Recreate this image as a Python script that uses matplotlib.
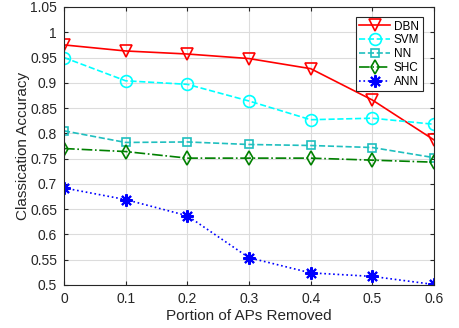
import matplotlib
matplotlib.use("Agg")
import matplotlib.pyplot as plt

plt.rcParams['font.family'] = ['Liberation Sans', 'DejaVu Sans']

portion = [0, 0.1, 0.2, 0.3, 0.4, 0.5, 0.6]
dbn = [0.975, 0.963, 0.957, 0.948, 0.928, 0.866, 0.787]
svm = [0.950, 0.904, 0.897, 0.864, 0.827, 0.830, 0.818]
nn = [0.805, 0.782, 0.783, 0.778, 0.776, 0.772, 0.752]
shc = [0.770, 0.764, 0.751, 0.751, 0.751, 0.747, 0.743]
ann = [0.692, 0.669, 0.637, 0.554, 0.524, 0.517, 0.501]

fig = plt.figure(figsize=(4.59, 3.28), dpi=100)
ax = fig.add_axes([64 / 459, 1 - 285 / 328, 370 / 459, 278 / 328])

# asterisk like matlab's '*'
asterisk = (8, 2, 0)

ax.plot(portion, dbn, '-', color='red', marker='v', ms=8, mfc='none', mew=1.2, lw=1.2, label='DBN')
ax.plot(portion, svm, '--', color='cyan', marker='o', ms=8.5, mfc='none', mew=1.2, lw=1.2, label='SVM')
ax.plot(portion, nn, '--', color='#1fbfbf', marker='s', ms=5.5, mfc='none', mew=1.2, lw=1.2, label='NN')
ax.plot(portion, shc, '-.', color='#008000', marker='d', ms=7.5, mfc='none', mew=1.2, lw=1.2, label='SHC')
ax.plot(portion, ann, ':', color='blue', marker=asterisk, ms=9, mew=1.5, lw=1.2, label='ANN')

ax.set_xlim(0, 0.6)
ax.set_ylim(0.5, 1.05)
ax.set_xticks(portion)
ax.set_xticklabels(['0', '0.1', '0.2', '0.3', '0.4', '0.5', '0.6'])
yt = [0.5, 0.55, 0.6, 0.65, 0.7, 0.75, 0.8, 0.85, 0.9, 0.95, 1.0, 1.05]
ax.set_yticks(yt)
ax.set_yticklabels(['0.5', '0.55', '0.6', '0.65', '0.7', '0.75', '0.8', '0.85', '0.9', '0.95', '1', '1.05'])
ax.grid(True, color='#dcdcdc', lw=0.8)
ax.set_axisbelow(True)
ax.tick_params(direction='in', labelsize=10, colors='#262626', length=3, top=True, right=True, pad=5)
for s in ax.spines.values():
    s.set_color('#262626')
ax.set_xlabel('Portion of APs Removed', fontsize=11, color='#262626', labelpad=2)
ax.set_ylabel('Classication Accuracy', fontsize=11, color='#262626', labelpad=0)

leg = ax.legend(loc='upper right', fontsize=8.5, fancybox=False, framealpha=1,
                edgecolor='#262626', handlelength=2.6, borderpad=0.3, labelspacing=0.15,
                handletextpad=0.3, bbox_to_anchor=(0.985, 0.985))
leg.get_frame().set_linewidth(0.8)

fig.savefig('out.png', dpi=100)
